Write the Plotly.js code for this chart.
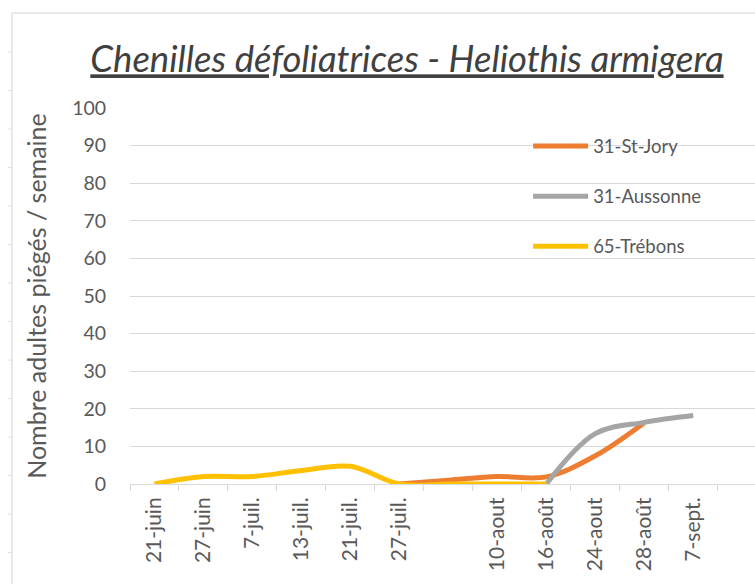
<!DOCTYPE html>
<html>
<head>
<meta charset="utf-8">
<script src="https://cdn.plot.ly/plotly-3.0.1.min.js"></script>
<style>html,body{margin:0;padding:0;background:#fff;}#chart{width:755px;height:584px;}</style>
</head>
<body>
<div id="chart"></div>
<script>
const dates = ["21-juin", "27-juin", "7-juil.", "13-juil.", "21-juil.", "27-juil.", "\u00a0", "10-aout", "16-août", "24-aout", "28-août", "7-sept."];
const seriesNames = ["31-St-Jory", "31-Aussonne", "65-Trébons"];
const stJory   = [null, null, null, null, null, 0, 1, 2, 1.9, 7.5, 16.3, null];
const aussonne = [null, null, null, null, null, null, null, null, 0, 13.4, 16.4, 18.2];
const trebons  = [0, 2.0, 2.0, 3.6, 4.7, 0, 0, 0, 0, null, null, null];
const colors = ["#ED7D31", "#A5A5A5", "#FFC000"];

const FONT = "Lato, 'Open Sans', sans-serif";
const GRAY = "#595959";
const values = [stJory, aussonne, trebons];

const traces = values.map((v, i) => ({
  type: "scatter",
  mode: "lines",
  name: seriesNames[i],
  legendgroup: "g" + i,
  x: dates,
  y: v,
  line: {color: colors[i], width: 5, shape: "spline", smoothing: 1},
  hoverinfo: "x+y+name"
}));

// decorative spreadsheet frame (top and left edges with small row ticks)
const shapes = [
  {type: "line", xref: "paper", yref: "paper", x0: -0.189, x1: 1.01, y0: 1.2527, y1: 1.2527, line: {color: "#e0e0e0", width: 1.5}},
  {type: "line", xref: "paper", yref: "paper", x0: -0.189, x1: -0.189, y0: 1.2527, y1: -0.27, line: {color: "#e0e0e0", width: 1.5}}
];
for (let k = 0; k < 14; k++) {
  const py = 52 + 38.5 * k;
  const yp = (484 - py) / 376;
  shapes.push({type: "line", xref: "paper", yref: "paper", x0: -0.196, x1: -0.189, y0: yp, y1: yp, line: {color: "#e0e0e0", width: 1}});
}

const layout = {
  width: 755, height: 584,
  paper_bgcolor: "#ffffff", plot_bgcolor: "#ffffff",
  margin: {l: 130, r: 0, t: 108, b: 100, pad: 0},
  font: {family: FONT, color: GRAY},
  title: {
    text: "Chenilles défoliatrices - Heliothis armigera",
    xref: "container", yref: "container",
    x: 0.539, xanchor: "center", y: 0.898, yanchor: "middle",
    font: {family: FONT, size: 36.5, color: "#404040", style: "italic", lineposition: "under"}
  },
  xaxis: {
    type: "category",
    categoryorder: "array",
    categoryarray: dates,
    range: [-0.5, 12.26],
    tickson: "boundaries",
    ticks: "outside", ticklen: 6, tickcolor: "#d9d9d9", tickwidth: 1,
    ticklabelstandoff: 4,
    showline: true, linecolor: "#d9d9d9", linewidth: 1,
    showgrid: false, zeroline: false,
    tickangle: -90,
    tickfont: {family: FONT, size: 21, color: GRAY},
    fixedrange: true
  },
  yaxis: {
    range: [0, 100],
    dtick: 10, tick0: 0,
    showgrid: true, gridcolor: "#d9d9d9", gridwidth: 1,
    zeroline: false, showline: false,
    ticks: "outside", ticklen: 19, tickcolor: "rgba(0,0,0,0)",
    tickfont: {family: FONT, size: 19.5, color: GRAY},
    title: {text: "Nombre adultes piégés / semaine", font: {family: FONT, size: 25, color: GRAY}, standoff: 18},
    fixedrange: true
  },
  showlegend: true,
  legend: {
    x: 0.637, y: 0.948, xanchor: "left", yanchor: "top",
    bgcolor: "rgba(255,255,255,0)",
    font: {family: FONT, size: 18.5, color: GRAY},
    traceorder: "grouped",
    tracegroupgap: 23,
    itemwidth: 55
  },
  shapes: shapes
};

Plotly.newPlot("chart", traces, layout, {displayModeBar: false, responsive: false});
</script>
</body>
</html>
